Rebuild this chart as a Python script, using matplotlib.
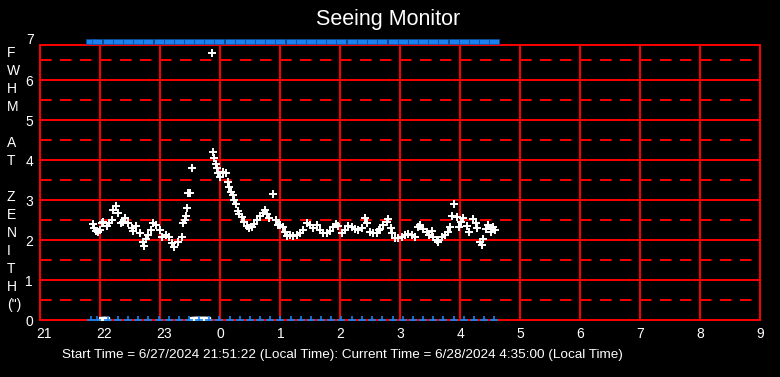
import matplotlib
matplotlib.use('Agg')
import matplotlib.pyplot as plt
from matplotlib.path import Path
from matplotlib.transforms import ScaledTranslation

plt.rcParams['font.family'] = ['Liberation Sans', 'DejaVu Sans']
plt.rcParams['lines.scale_dashes'] = False

# minutes after 21:00 local time, and FWHM at zenith (arcsec)
t_min = [53, 54, 56, 58, 60, 62, 63, 67, 69, 72, 73, 76, 78, 81, 83, 85, 88, 92, 93, 96,
         100, 103, 104, 106, 108, 111, 113, 116, 120, 122, 126, 129, 132, 134, 138, 142, 143, 145, 146, 147,
         148, 150, 152, 172, 173, 174, 176, 177, 178, 180, 183, 186, 188, 189, 191, 193, 194, 196, 198, 199,
         202, 204, 207, 209, 212, 214, 217, 220, 223, 225, 227, 229, 233, 236, 238, 240, 243, 245, 247, 250,
         253, 257, 260, 263, 267, 270, 273, 277, 280, 283, 287, 290, 293, 296, 298, 302, 305, 308, 312, 315,
         318, 322, 325, 327, 330, 333, 337, 339, 340, 343, 347, 348, 351, 352, 355, 358, 362, 365, 368, 372,
         375, 378, 380, 383, 387, 389, 392, 393, 397, 398, 402, 405, 408, 410, 412, 414, 417, 419, 421, 423,
         427, 429, 433, 436, 437, 440, 442, 443, 446, 448, 451, 453, 455]
fwhm = [2.39, 2.30, 2.22, 2.20, 2.24, 2.42, 2.46, 2.35, 2.42, 2.50, 2.75, 2.86, 2.68, 2.42, 2.46, 2.56, 2.42, 2.29, 2.23, 2.35,
        2.17, 1.96, 1.85, 2.02, 2.13, 2.25, 2.42, 2.38, 2.25, 2.08, 2.13, 2.08, 1.92, 1.83, 1.96, 2.08, 2.42, 2.50, 2.60, 2.79,
        3.17, 3.18, 3.79, 6.68, 4.19, 4.04, 3.89, 3.79, 3.68, 3.58, 3.71, 3.67, 3.46, 3.33, 3.21, 3.13, 3.00, 2.90, 2.73, 2.65,
        2.57, 2.46, 2.35, 2.29, 2.32, 2.40, 2.50, 2.60, 2.68, 2.75, 2.65, 2.54, 3.15, 2.50, 2.38, 2.38, 2.33, 2.21, 2.10, 2.13,
        2.10, 2.13, 2.17, 2.25, 2.43, 2.38, 2.29, 2.38, 2.25, 2.18, 2.17, 2.23, 2.33, 2.40, 2.35, 2.18, 2.25, 2.35, 2.32, 2.27,
        2.25, 2.29, 2.54, 2.43, 2.21, 2.18, 2.17, 2.25, 2.27, 2.38, 2.46, 2.52, 2.29, 2.17, 2.04, 2.04, 2.08, 2.13, 2.15, 2.13,
        2.08, 2.33, 2.38, 2.27, 2.21, 2.13, 2.23, 2.08, 2.00, 1.96, 2.08, 2.13, 2.21, 2.33, 2.60, 2.90, 2.58, 2.33, 2.46, 2.54,
        2.35, 2.21, 2.52, 2.42, 2.29, 1.96, 1.88, 2.02, 2.27, 2.38, 2.21, 2.32, 2.25]

# samples with no measurement (shown at zero)
zero_min = [62, 64, 66, 153, 155, 157, 159, 161, 163, 165, 167]

# status marks (every ~10 min)
mark_min = [51, 57, 68, 78, 88, 98, 108, 119, 129, 139, 149, 159, 169, 179, 190, 200, 210, 220, 230,
            240, 251, 261, 271, 281, 291, 301, 312, 322, 332, 342, 353, 363, 373, 383, 393, 403, 414, 424, 434,
            444, 454]

hour_ticks = list(range(21, 34))
hour_labels = [str(h % 24) for h in hour_ticks]
title = "Seeing Monitor"
ylabel_chars = ["F", "W", "H", "M", "", "A", "T", "", "Z", "E", "N", "I", "T", "H", '(")']
footer = "Start Time = 6/27/2024 21:51:22 (Local Time): Current Time = 6/28/2024 4:35:00 (Local Time)"

red = '#ff0000'
blue = '#1a82f0'


def to_hours(mins):
    return [21 + m / 60 for m in mins]


fig = plt.figure(figsize=(7.8, 3.77), dpi=100, facecolor='black')
ax = fig.add_axes([40 / 780, 57 / 377, 720 / 780, 275 / 377])
ax.set_facecolor('black')
ax.set_xlim(21, 33)
ax.set_ylim(0, 6.875)

# grid
for h in hour_ticks[1:-1]:
    ax.axvline(h, color=red, lw=1.4, zorder=1)
for v in range(1, 7):
    ax.axhline(v, color=red, lw=1.4, zorder=1)
for v in [0.5 + k for k in range(7)]:
    ax.axhline(v, color=red, lw=1.4, dashes=(8.3, 6.1), zorder=1)
for s in ax.spines.values():
    s.set_color(red)
    s.set_linewidth(1.4)

# data
ax.plot(to_hours(zero_min), [0] * len(zero_min), ls='none', marker='s', ms=4.5, color='white', zorder=3)
ax.plot(to_hours(mark_min), [0] * len(mark_min), ls='none', marker='+', ms=6, mew=1.2, color=blue, zorder=4)
rect = Path([(-1, -0.5), (1, -0.5), (1, 0.5), (-1, 0.5), (-1, -0.5)],
            [Path.MOVETO, Path.LINETO, Path.LINETO, Path.LINETO, Path.CLOSEPOLY])
ax.plot(to_hours(mark_min), [6.97] * len(mark_min), ls='none', marker=rect, ms=7.2,
        mfc=blue, mec='#0b4c9a', mew=0.5, clip_on=False, zorder=4)
ax.plot(to_hours(t_min), fwhm, ls='none', marker='+', ms=6, mew=1.4, color='white', zorder=5)

# ticks
ax.tick_params(length=0, colors='white', labelsize=10, pad=5)
ax.set_xticks(hour_ticks)
ax.set_xticklabels(hour_labels)
for lab in ax.get_xticklabels():
    lab.set_ha('left')
    lab.set_transform(lab.get_transform() + ScaledTranslation(-3.5 / 100, 0, fig.dpi_scale_trans))
ax.set_yticks(range(0, 7))
ax.text(-0.0083, 7, '7', transform=ax.get_yaxis_transform(), ha='right', va='center',
        color='white', fontsize=10, clip_on=False)

fig.text(0.497, 1 - 20 / 377, title, ha='center', va='center', color='white', fontsize=15.5)
for i, c in enumerate(ylabel_chars):
    if c:
        fig.text(7 / 780, 1 - (53.3 + 18 * i) / 377, c, ha='left', va='center', color='white', fontsize=10)
fig.text(62 / 780, 1 - 355 / 377, footer, ha='left', va='center', color='white', fontsize=9.7)

fig.savefig('out.png', facecolor='black')
